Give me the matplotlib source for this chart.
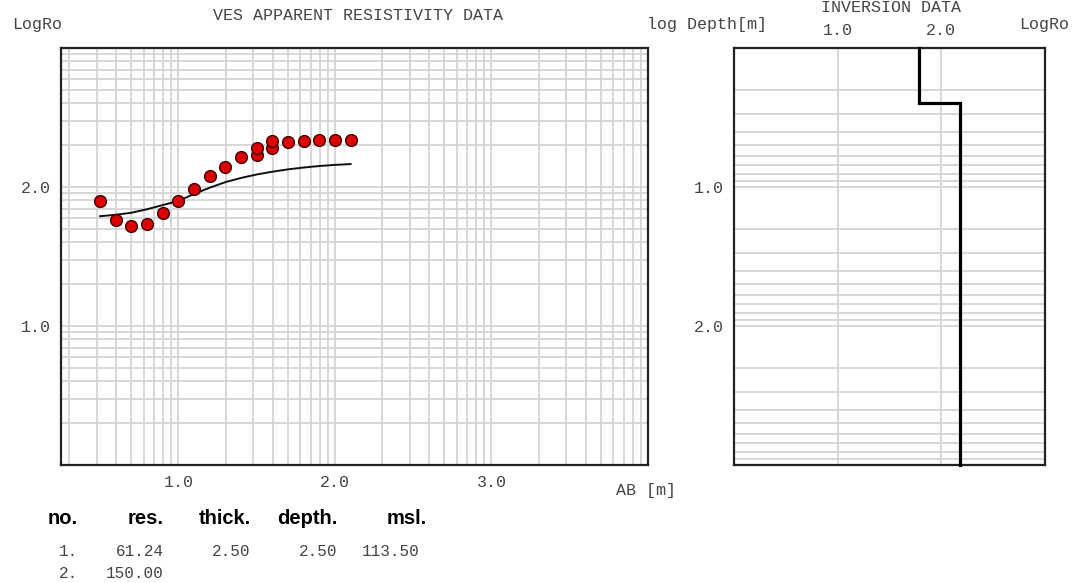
import numpy as np
import matplotlib
matplotlib.use("Agg")
import matplotlib.pyplot as plt

W, H = 1076, 583
MONO = "Liberation Mono"
SANS = "Liberation Sans"
TXT = "#444444"
GRID = "#d4d4d4"

# measured apparent resistivity (log10 AB/2, log10 rho)
ab_log = [0.5, 0.6, 0.7, 0.8, 0.9, 1.0, 1.1, 1.2, 1.3, 1.4, 1.5, 1.5,
          1.6, 1.6, 1.7, 1.8, 1.9, 2.0, 2.1]
rho_log = [1.899, 1.763, 1.719, 1.732, 1.811, 1.899, 1.986, 2.079, 2.142,
           2.218, 2.228, 2.278, 2.283, 2.329, 2.324, 2.333, 2.338, 2.338, 2.338]

# model response curve
curve_ab = [0.5, 0.6, 0.7, 0.8, 0.9, 1.0, 1.1, 1.2, 1.3, 1.4, 1.5, 1.6,
            1.7, 1.8, 1.9, 2.0, 2.1]
curve_rho = [1.79, 1.80, 1.815, 1.84, 1.87, 1.90, 1.95, 1.995, 2.035, 2.065,
             2.09, 2.11, 2.127, 2.14, 2.151, 2.159, 2.165]

# inverted layer model
layer_no = ["1.", "2."]
layer_res = [61.24, 150.00]
layer_thick = [2.50]
layer_depth = [2.50]
layer_msl = [113.50]

x_ticks = [1.0, 2.0, 3.0]
y_ticks = [1.0, 2.0]
inv_x_ticks = [1.0, 2.0]


def px(x, y):
    return x / W, 1 - y / H


def log_grid(lo, hi):
    vals = []
    for k in range(-1, 5):
        for n in range(1, 10):
            v = k + np.log10(n)
            if lo <= v <= hi:
                vals.append(v)
    return vals


def style_axes(ax):
    for s in ax.spines.values():
        s.set_linewidth(1.6)
        s.set_color("#222222")
    ax.tick_params(which="both", length=0, labelsize=12, labelcolor=TXT)
    for lab in ax.get_xticklabels() + ax.get_yticklabels():
        lab.set_fontfamily(MONO)
    ax.set_axisbelow(True)


fig = plt.figure(figsize=(W / 100, H / 100), dpi=100)

# ---- left: apparent resistivity
ax1 = fig.add_axes([61 / W, 1 - 465 / H, 587 / W, 417 / H])
ax1.set_xlim(0.25, 4.0)
ax1.set_ylim(0.0, 3.0)
ax1.set_xticks(x_ticks)
ax1.set_xticklabels([f"{t:.1f}" for t in x_ticks])
ax1.set_yticks(y_ticks)
ax1.set_yticklabels([f"{t:.1f}" for t in y_ticks])
ax1.set_xticks(log_grid(0.25, 4.0), minor=True)
ax1.set_yticks(log_grid(0.0, 3.0), minor=True)
ax1.grid(which="both", color=GRID, linewidth=1.3)
ax1.tick_params(axis="x", pad=7)
ax1.tick_params(axis="y", pad=7.5)
style_axes(ax1)

ax1.plot(curve_ab, curve_rho, color="#111111", linewidth=1.4, zorder=3)
ax1.plot(ab_log, rho_log, linestyle="none", marker="o", markersize=8.5,
         markerfacecolor="#dd0000", markeredgecolor="#3a0000",
         markeredgewidth=1.0, zorder=4)

# ---- right: inversion model
ax2 = fig.add_axes([734 / W, 1 - 465 / H, 311 / W, 417 / H])
ax2.set_xlim(0.0, 3.0)
ax2.set_ylim(3.0, 0.0)
ax2.xaxis.tick_top()
ax2.set_xticks(inv_x_ticks)
ax2.set_xticklabels([f"{t:.1f}" for t in inv_x_ticks])
ax2.set_yticks(y_ticks)
ax2.set_yticklabels([f"{t:.1f}" for t in y_ticks])
ax2.set_yticks(log_grid(0.0, 3.0), minor=True)
ax2.grid(which="both", axis="y", color=GRID, linewidth=1.3)
ax2.grid(which="major", axis="x", color=GRID, linewidth=1.3)
ax2.tick_params(axis="x", pad=7)
ax2.tick_params(axis="y", pad=7)
style_axes(ax2)

r_log = np.log10(layer_res)
d_log = np.log10(layer_depth)
step_x = [r_log[0], r_log[0], r_log[1], r_log[1]]
step_y = [0.0, d_log[0], d_log[0], 3.0]
ax2.plot(step_x, step_y, color="black", linewidth=2.3, zorder=4,
         clip_on=False, solid_joinstyle="miter")

# ---- labels
def ftxt(x, y, s, **kw):
    opts = dict(ha="center", va="center", fontfamily=MONO, fontsize=12, color=TXT)
    opts.update(kw)
    fig.text(*px(x, y), s, **opts)


ftxt(358, 15, "VES APPARENT RESISTIVITY DATA")
ftxt(37, 24, "LogRo")
ftxt(707, 24, "log Depth[m]")
ftxt(891, 8, "INVERSION DATA")
ftxt(1044, 25, "LogRo")
ftxt(646, 490, "AB [m]")

# ---- table
hdr = dict(fontfamily=SANS, fontsize=14.5, fontweight="bold", color="black", va="center")
fig.text(*px(48, 519), "no.", ha="left", **hdr)
fig.text(*px(164, 519), "res.", ha="right", **hdr)
fig.text(*px(251, 519), "thick.", ha="right", **hdr)
fig.text(*px(337, 519), "depth.", ha="right", **hdr)
fig.text(*px(427, 519), "msl.", ha="right", **hdr)

row_y = [552, 573]
for i, no in enumerate(layer_no):
    y = row_y[i]
    ftxt(59, y, no, ha="left", fontsize=11.5)
    ftxt(164, y, f"{layer_res[i]:.2f}", ha="right", fontsize=11.5)
    if i < len(layer_thick):
        ftxt(250, y, f"{layer_thick[i]:.2f}", ha="right", fontsize=11.5)
        ftxt(337, y, f"{layer_depth[i]:.2f}", ha="right", fontsize=11.5)
        ftxt(420, y, f"{layer_msl[i]:.2f}", ha="right", fontsize=11.5)

fig.savefig("out.png", dpi=100, facecolor="white")
